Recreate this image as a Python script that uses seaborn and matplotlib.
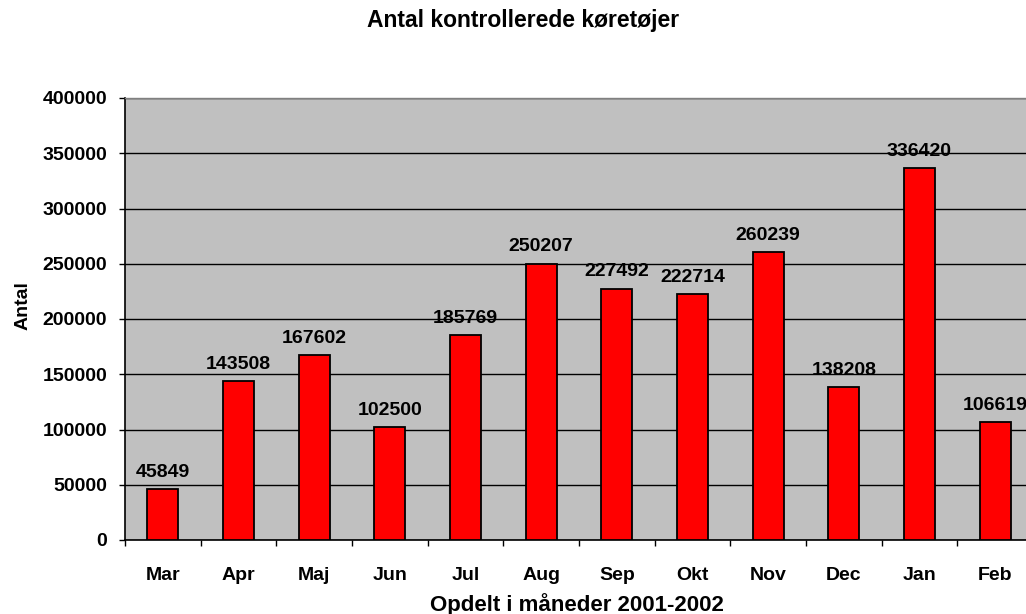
import matplotlib
matplotlib.use('Agg')
import pandas as pd
import seaborn as sns
import matplotlib.pyplot as plt

months = ['Mar', 'Apr', 'Maj', 'Jun', 'Jul', 'Aug', 'Sep', 'Okt', 'Nov', 'Dec', 'Jan', 'Feb']
counts = [45849, 143508, 167602, 102500, 185769, 250207, 227492, 222714, 260239, 138208, 336420, 106619]

sns.set_style('white')
plt.rcParams['font.family'] = ['Liberation Sans', 'DejaVu Sans']
plt.rcParams['font.weight'] = 'bold'
plt.rcParams['text.color'] = 'black'
plt.rcParams['axes.labelcolor'] = 'black'
plt.rcParams['xtick.color'] = 'black'
plt.rcParams['ytick.color'] = 'black'

df = pd.DataFrame({'month': months, 'antal': counts})

fig = plt.figure(figsize=(10.26, 6.14), dpi=100)
ax = fig.add_axes([125 / 1026, 1 - 540 / 614, 908 / 1026, 442 / 614])
ax.set_facecolor('#c0c0c0')

sns.barplot(data=df, x='month', y='antal', ax=ax, color='#ff0000', width=0.41,
            edgecolor='black', linewidth=1.3, saturation=1, zorder=3)

# value labels above bars
for i, v in enumerate(counts):
    ax.text(i, v + 11000, str(v), ha='center', va='baseline', fontsize=14,
            fontweight='bold', color='black', zorder=4, clip_on=False)

ax.set_ylim(0, 400000)
ax.set_xlim(-0.5, len(months) - 0.5)
ax.set_yticks(range(0, 400001, 50000))
ax.yaxis.grid(True, color='black', linewidth=1, zorder=0)
ax.set_axisbelow(True)

ax.tick_params(axis='y', which='major', left=True, length=4.3, width=1, labelsize=14, pad=8.4)
ax.tick_params(axis='x', which='major', bottom=False, labelsize=14, pad=16)
ax.set_xticks([i + 0.5 for i in range(-1, len(months))], minor=True)
ax.tick_params(axis='x', which='minor', bottom=True, length=4.5, width=1)
for lab in ax.get_xticklabels() + ax.get_yticklabels():
    lab.set_fontweight('bold')

for side in ['left', 'bottom']:
    ax.spines[side].set_color('black')
    ax.spines[side].set_linewidth(1.2)
for side in ['top', 'right']:
    ax.spines[side].set_color('#808080')
    ax.spines[side].set_linewidth(1)

ax.set_xlabel('Opdelt i måneder 2001-2002', fontsize=16, fontweight='bold', va='baseline')
ax.xaxis.set_label_coords(0.498, -0.1606)
ax.set_ylabel('Antal', fontsize=14, fontweight='bold', va='center')
ax.yaxis.set_label_coords(-0.112, 0.53)

fig.text(523 / 1026, 1 - 27.5 / 614, 'Antal kontrollerede køretøjer', ha='center', va='baseline',
         fontsize=16.5, fontweight='bold')

plt.savefig('out.png', dpi=100)
